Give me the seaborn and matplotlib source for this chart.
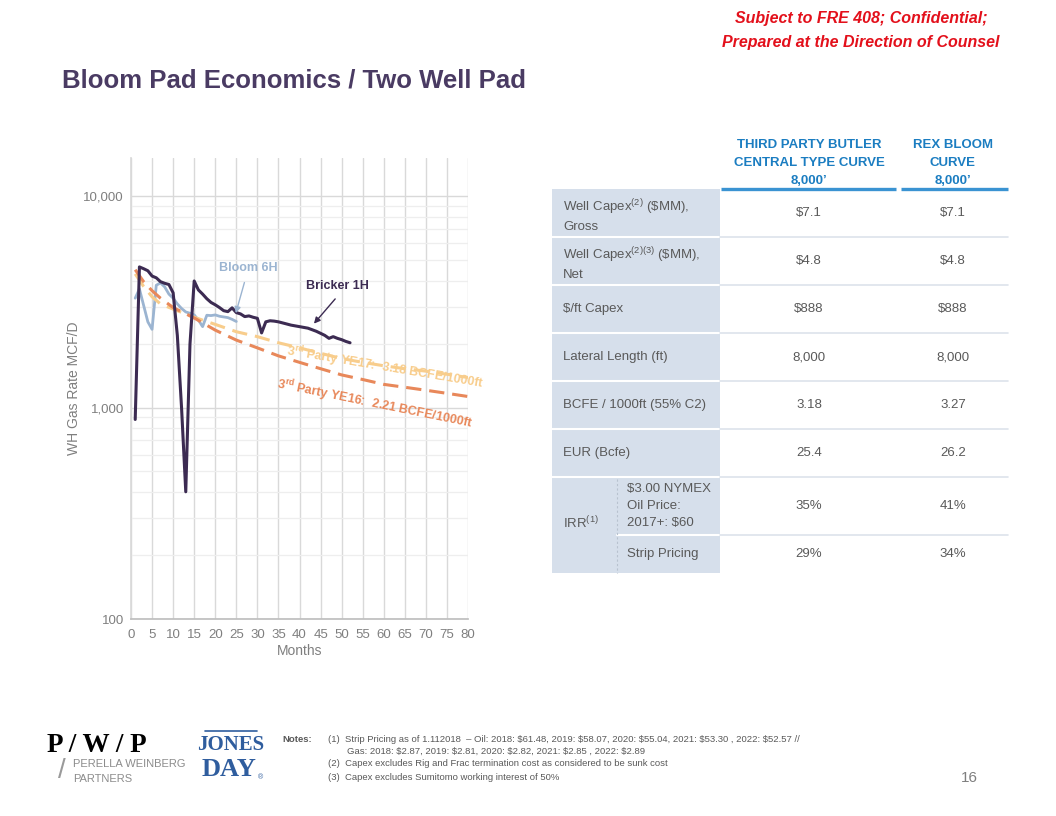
import numpy as np
import pandas as pd
import seaborn as sns
import matplotlib
matplotlib.use("Agg")
import matplotlib.pyplot as plt
from matplotlib.patches import Rectangle
from matplotlib.ticker import FixedLocator, FuncFormatter, NullFormatter

# ---------------- data ----------------
bricker_months = list(range(1, 53))
bricker_rate = [880, 4640, 4550, 4450, 4200, 4120, 3950, 3880, 3830, 3500,
                2200, 1000, 400, 2000, 3980, 3610, 3450, 3280, 3150, 3070,
                2980, 2880, 2850, 2970, 2820, 2780, 2700, 2720, 2680, 2650,
                2260, 2550, 2580, 2570, 2550, 2520, 2490, 2460, 2440, 2420,
                2400, 2380, 2340, 2300, 2250, 2200, 2130, 2170, 2130, 2100,
                2060, 2030]
bloom_months = list(range(1, 26))
bloom_rate = [3300, 3650, 3050, 2550, 2350, 3800, 3900, 3730, 3450, 3300,
              3100, 2950, 2840, 2800, 2750, 2600, 2420, 2740, 2730, 2750,
              2710, 2690, 2670, 2620, 2560]
tc_months = [1, 3, 5, 7, 10, 15, 20, 25, 30, 35, 40, 45, 50, 55, 60, 65, 70, 75, 80]
ye17_rate = [4300, 3750, 3350, 3100, 2930, 2680, 2480, 2290, 2170, 2030, 1920,
             1810, 1710, 1640, 1580, 1530, 1490, 1440, 1390]
ye16_rate = [4500, 3950, 3580, 3300, 2980, 2660, 2330, 2090, 1920, 1760, 1640,
             1530, 1430, 1360, 1290, 1250, 1210, 1170, 1130]

x_ticks = list(range(0, 85, 5))
y_major = [100, 1000, 10000]

table_headers = ["THIRD PARTY BUTLER\nCENTRAL TYPE CURVE\n8,000\u2019", "REX BLOOM\nCURVE\n8,000\u2019"]
row_labels = ["Well Capex$^{(2)}$ (\\$MM),\nGross", "Well Capex$^{(2)(3)}$ (\\$MM),\nNet",
              "$/ft Capex", "Lateral Length (ft)", "BCFE / 1000ft (55% C2)", "EUR (Bcfe)"]
irr_label = "IRR$^{(1)}$"
irr_sub_labels = ["$3.00 NYMEX\nOil Price:\n2017+: $60", "Strip Pricing"]
col1_values = ["$7.1", "$4.8", "$888", "8,000", "3.18", "25.4", "35%", "29%"]
col2_values = ["$7.1", "$4.8", "$888", "8,000", "3.27", "26.2", "41%", "34%"]

notes = ["(1)  Strip Pricing as of 1.112018  \u2013 Oil: 2018: $61.48, 2019: $58.07, 2020: $55.04, 2021: $53.30 , 2022: $52.57 //",
         "Gas: 2018: $2.87, 2019: $2.81, 2020: $2.82, 2021: $2.85 , 2022: $2.89",
         "(2)  Capex excludes Rig and Frac termination cost as considered to be sunk cost",
         "(3)  Capex excludes Sumitomo working interest of 50%"]

# ---------------- style ----------------
sns.set_theme(style="white")
plt.rcParams["font.family"] = ["Liberation Sans", "DejaVu Sans"]
plt.rcParams["mathtext.fontset"] = "custom"
plt.rcParams["mathtext.rm"] = "Liberation Sans"
plt.rcParams["mathtext.it"] = "Liberation Sans:italic"
plt.rcParams["mathtext.bf"] = "Liberation Sans:bold"

C_PURPLE = "#3C2B52"
C_BLUE = "#9BB4D1"
C_YE17 = "#F8CD8C"
C_YE16 = "#E8885A"
C_GRAY = "#7F7F7F"
C_TXT = "#595959"
C_HEAD = "#1B7DC1"

W, H = 1056, 816
fig = plt.figure(figsize=(W / 100, H / 100), dpi=100)
fig.patch.set_facecolor("white")

# overlay axes in pixel coordinates
ov = fig.add_axes([0, 0, 1, 1], zorder=0)
ov.set_xlim(0, W)
ov.set_ylim(H, 0)
ov.axis("off")

# ---------------- chart ----------------
L, R, T, B = 131, 468, 158, 619
ax = fig.add_axes([L / W, 1 - B / H, (R - L) / W, (B - T) / H], zorder=2)
ax.set_facecolor("none")
ax.set_yscale("log")
ax.set_xlim(0, 80)
ax.set_ylim(100, 10 ** (3 + (408 - T) / 211.5))

ax.yaxis.set_major_locator(FixedLocator(y_major))
minor = [m * d for d in (100, 1000, 10000) for m in range(2, 10)]
ax.yaxis.set_minor_locator(FixedLocator(minor))
ax.yaxis.set_minor_formatter(NullFormatter())
ax.yaxis.set_major_formatter(FuncFormatter(lambda v, p: f"{v:,.0f}"))
ax.set_xticks(x_ticks)
ax.grid(True, which="major", axis="both", color="#D9D9D9", lw=1.0)
ax.grid(True, which="minor", axis="y", color="#EEEEEE", lw=0.9)
ax.set_axisbelow(True)
for s in ["top", "right"]:
    ax.spines[s].set_visible(False)
ax.spines["left"].set_color("#D9D9D9")
ax.spines["bottom"].set_color("#BFBFBF")
ax.tick_params(axis="both", which="both", length=0, labelsize=9.5, labelcolor=C_GRAY)
ax.tick_params(axis="y", pad=5)
ax.tick_params(axis="x", pad=7)

sns.lineplot(x=bloom_months, y=bloom_rate, ax=ax, color=C_BLUE, lw=2.0)
sns.lineplot(x=tc_months, y=ye17_rate, ax=ax, color=C_YE17, lw=2.2)
ax.lines[-1].set_dashes((5, 2.6))
sns.lineplot(x=tc_months, y=ye16_rate, ax=ax, color=C_YE16, lw=2.2)
ax.lines[-1].set_dashes((5, 2.6))
sns.lineplot(x=bricker_months, y=bricker_rate, ax=ax, color=C_PURPLE, lw=2.2)

ax.set_xlabel("Months", fontsize=10, color=C_GRAY)
ax.set_ylabel("WH Gas Rate MCF/D", fontsize=10, color=C_GRAY)
ax.xaxis.set_label_coords((300 - L) / (R - L), (B - 651) / (B - T))
ax.yaxis.set_label_coords((74 - L) / (R - L), (B - 388) / (B - T))
ax.xaxis.label.set_va("center")
ax.yaxis.label.set_va("center")

# annotations
ax.annotate("", xy=(24.7, 2722), xytext=(27.1, 4030),
            arrowprops=dict(arrowstyle="-|>", color=C_BLUE, lw=1.0, mutation_scale=9))
ax.text(27.8, 4590, "Bloom 6H", color=C_BLUE, fontsize=9, weight="bold", ha="center", va="center")
ax.annotate("", xy=(43.0, 2443), xytext=(48.9, 3350),
            arrowprops=dict(arrowstyle="-|>", color=C_PURPLE, lw=1.0, mutation_scale=9))
ax.text(49.1, 3775, "Bricker 1H", color=C_PURPLE, fontsize=9, weight="bold", ha="center", va="center")

ax.text(60.3, 1546, "3$^{\\mathbf{rd}}$ Party YE17:  3.18 BCFE/1000ft", color=C_YE17, fontsize=9,
        weight="bold", rotation=-9.5, ha="center", va="center", rotation_mode="anchor")
ax.text(57.9, 1033, "3$^{\\mathbf{rd}}$ Party YE16:  2.21 BCFE/1000ft", color=C_YE16, fontsize=9,
        weight="bold", rotation=-11.5, ha="center", va="center", rotation_mode="anchor")

# ---------------- titles ----------------
ov.text(62, 80, "Bloom Pad Economics / Two Well Pad", fontsize=18.5, weight="bold",
        color="#4A3B63", va="center", ha="left")
ov.text(861, 18, "Subject to FRE 408; Confidential;", fontsize=11.5, weight="bold",
        style="italic", color="#E3101B", ha="center", va="center")
ov.text(861, 42, "Prepared at the Direction of Counsel", fontsize=11.5, weight="bold",
        style="italic", color="#E3101B", ha="center", va="center")

# ---------------- table ----------------
TL, TC, TV, TR = 552, 617, 720, 1008
row_edges = [189, 237, 285, 333, 381, 429, 477]
irr_top, irr_mid, irr_bot = 477, 535, 573
col_x = [809, 953]

ov.add_patch(Rectangle((TL, 189), TV - TL, irr_bot - 189, facecolor="#D6DFEB", edgecolor="none"))
for y in row_edges[1:]:
    ov.plot([TL, TV], [y, y], color="white", lw=1.5)
    ov.plot([TV, TR], [y, y], color="#DDE3EB", lw=1.2)
ov.plot([TC, TV], [irr_mid, irr_mid], color="white", lw=1.5)
ov.plot([TV, TR], [irr_mid, irr_mid], color="#DDE3EB", lw=1.2)
ov.plot([TC, TC], [irr_top + 2, irr_bot], color="#B8C2CF", lw=0.8, ls=(0, (2, 2)))
ov.plot([721, 896], [188.5, 188.5], color="#3A93D2", lw=2.4, solid_capstyle="butt")
ov.plot([901, 1008], [188.5, 188.5], color="#3A93D2", lw=2.4, solid_capstyle="butt")

for cx, htxt in zip(col_x, table_headers):
    ov.text(cx, 163, htxt, ha="center", va="center", multialignment="center",
            fontsize=9.5, weight="bold", color=C_HEAD, linespacing=1.65)

row_centers = [213, 261, 309, 357, 405, 453]
for yc, lab in zip(row_centers, row_labels):
    ov.text(563, yc + (2 if "\n" in lab else 0), lab, ha="left", va="center", fontsize=9.5,
            color=C_TXT, linespacing=1.45, parse_math=("^" in lab))
ov.text(563, 523, irr_label, ha="left", va="center", fontsize=9.5, color=C_TXT)
sub_centers = [506, 554]
for yc, lab in zip(sub_centers, irr_sub_labels):
    ov.text(627, yc, lab, ha="left", va="center", fontsize=9.5, color=C_TXT, linespacing=1.55,
            parse_math=False)

val_centers = row_centers + sub_centers
for yc, v1, v2 in zip(val_centers, col1_values, col2_values):
    ov.text(col_x[0], yc, v1, ha="center", va="center", fontsize=9.5, color=C_TXT, parse_math=False)
    ov.text(col_x[1], yc, v2, ha="center", va="center", fontsize=9.5, color=C_TXT, parse_math=False)

# ---------------- notes ----------------
note_font = ["Liberation Sans Narrow", "Liberation Sans", "DejaVu Sans"]
ov.text(282, 739, "Notes:", fontsize=6.8, weight="bold", color=C_TXT, va="center", family=note_font)
note_pos = [(328, 739), (347, 751), (328, 764), (328, 777)]
for (nx, ny), nt in zip(note_pos, notes):
    ov.text(nx, ny, nt, fontsize=6.8, color=C_TXT, va="center", family=note_font, parse_math=False)
ov.text(978, 778, "16", fontsize=11, color=C_GRAY, ha="right", va="center")

# ---------------- logos ----------------
ov.text(47, 746, "P / W / P", fontsize=19.5, weight="bold", family="Liberation Serif",
        color="black", ha="left", va="center")
ov.text(58, 771, "/", fontsize=20, color="#9A9A9A", ha="left", va="center")
ov.text(73, 764, "PERELLA WEINBERG", fontsize=8, color="#8C8C8C", ha="left", va="center")
ov.text(73, 779, "PARTNERS", fontsize=8, color="#8C8C8C", ha="left", va="center")
ov.plot([205, 257], [731, 731], color="#2F5D9E", lw=1.2)
ov.text(231, 745, "JONES", fontsize=15, weight="bold", family="Liberation Serif", color="#2F5D9E",
        ha="center", va="center")
ov.text(229, 770, "DAY", fontsize=19, weight="bold", family="Liberation Serif", color="#2F5D9E",
        ha="center", va="center")
ov.text(260, 778, "\u00ae", fontsize=5, color="#2F5D9E", ha="center", va="center")

fig.savefig("out.png", dpi=100, facecolor="white")
